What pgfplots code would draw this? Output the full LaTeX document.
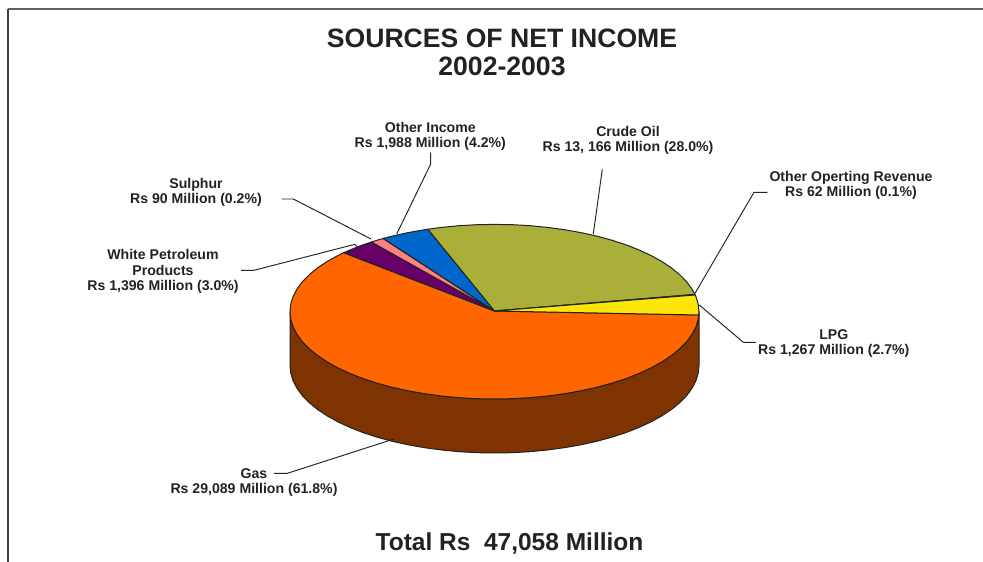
\documentclass[border=0pt]{standalone}
\usepackage{pgfplots}
\pgfplotsset{compat=1.18}
\usepackage{fontspec}
\setmainfont{Liberation Sans}
\definecolor{ink}{HTML}{222222}
\definecolor{gasTop}{HTML}{FF6600}
\definecolor{gasWall}{HTML}{7F3300}
\definecolor{whitePet}{HTML}{660066}
\definecolor{sulphur}{HTML}{FF8080}
\definecolor{otherInc}{HTML}{0066CC}
\definecolor{crude}{HTML}{A9AF39}
\definecolor{otherOp}{HTML}{FFCC00}
\definecolor{lpg}{HTML}{FFE60A}
\begin{document}
\begin{tikzpicture}[lab/.style={align=center, text=ink, font=\fontsize{14.1}{15.6}\selectfont\bfseries}]
\path[use as bounding box] (0,0) rectangle (983pt,562pt);
\begin{axis}[
  at={(0,0)}, anchor=south west,
  scale only axis, width=983pt, height=562pt,
  xmin=0, xmax=983, ymin=0, ymax=562,
  hide axis,
  slice/.style={draw=ink, line width=1pt, line join=round},
  leader/.style={draw=ink, line width=0.95pt, line join=round},
]
% page frame
\addplot[draw=black!62, line width=2pt] coordinates {(8,553) (983,553)};
\addplot[draw=black!75, line width=1.3pt] coordinates {(8,553) (8,0)};

% side wall of the disc
\addplot[slice, fill=gasWall] coordinates {
 (290.0,250.3) (290.8,242.7) (293.1,235.1) (297.0,227.7) (302.3,220.4) (309.2,213.4) (317.4,206.6) (327.0,200.2)
 (337.8,194.2) (349.9,188.6) (363.0,183.4) (377.2,178.8) (392.2,174.7) (408.1,171.2) (424.6,168.3) (441.6,166.0)
 (459.0,164.3) (476.7,163.3) (494.5,163.0) (512.3,163.3) (530.0,164.3) (547.4,166.0) (564.4,168.3) (580.9,171.2)
 (596.8,174.7) (611.8,178.8) (626.0,183.4) (639.1,188.6) (651.2,194.2) (662.0,200.2) (671.6,206.6) (679.8,213.4)
 (686.7,220.4) (692.0,227.7) (695.9,235.1) (698.2,242.7) (699.0,250.3)
 (699.0,196.3) (698.2,188.7) (695.9,181.1) (692.0,173.7) (686.7,166.4) (679.8,159.4) (671.6,152.6) (662.0,146.2)
 (651.2,140.2) (639.1,134.6) (626.0,129.4) (611.8,124.8) (596.8,120.7) (580.9,117.2) (564.4,114.3) (547.4,112.0)
 (530.0,110.3) (512.3,109.3) (494.5,109.0) (476.7,109.3) (459.0,110.3) (441.6,112.0) (424.6,114.3) (408.1,117.2)
 (392.2,120.7) (377.2,124.8) (363.0,129.4) (349.9,134.6) (337.8,140.2) (327.0,146.2) (317.4,152.6) (309.2,159.4)
 (302.3,166.4) (297.0,173.7) (293.1,181.1) (290.8,188.7) (290.0,196.3)
} -- cycle;

% Gas
\addplot[slice, fill=gasTop] coordinates {
 (494.5,251) (343.7,309.3) (337.8,306.4) (327.0,300.4) (317.4,294.0) (309.2,287.2) (302.3,280.2) (297.0,272.9)
 (293.1,265.5) (290.8,257.9) (290.0,250.3) (290.8,242.7) (293.1,235.1) (297.0,227.7) (302.3,220.4) (309.2,213.4)
 (317.4,206.6) (327.0,200.2) (337.8,194.2) (349.9,188.6) (363.0,183.4) (377.2,178.8) (392.2,174.7) (408.1,171.2)
 (424.6,168.3) (441.6,166.0) (459.0,164.3) (476.7,163.3) (494.5,163.0) (512.3,163.3) (530.0,164.3) (547.4,166.0)
 (564.4,168.3) (580.9,171.2) (596.8,174.7) (611.8,178.8) (626.0,183.4) (639.1,188.6) (651.2,194.2) (662.0,200.2)
 (671.6,206.6) (679.8,213.4) (686.7,220.4) (692.0,227.7) (695.9,235.1) (698.2,242.7) (698.9,247.0)
} -- cycle;

% White Petroleum Products
\addplot[slice, fill=whitePet] coordinates {
 (494.5,251) (371.4,320.0) (363.0,317.2) (349.9,312.0) (343.7,309.3)
} -- cycle;

% Sulphur
\addplot[slice, fill=sulphur] coordinates {
 (494.5,251) (383.1,323.5) (377.2,321.8) (371.4,320.0)
} -- cycle;

% Other Income
\addplot[slice, fill=otherInc] coordinates {
 (494.5,251) (427.9,332.8) (424.6,332.3) (408.1,329.4) (392.2,325.9) (383.1,323.5)
} -- cycle;

% Crude Oil
\addplot[slice, fill=crude] coordinates {
 (494.5,251) (695.0,267.6) (692.0,272.9) (686.7,280.2) (679.8,287.2) (671.6,294.0) (662.0,300.4) (651.2,306.4)
 (639.1,312.0) (626.0,317.2) (611.8,321.8) (596.8,325.9) (580.9,329.4) (564.4,332.3) (547.4,334.6) (530.0,336.3)
 (512.3,337.3) (494.5,337.6) (476.7,337.3) (459.0,336.3) (441.6,334.6) (427.9,332.8)
} -- cycle;

% Other Operating Revenue
\addplot[slice, fill=otherOp] coordinates {
 (494.5,251) (695.2,267.0) (695.0,267.6)
} -- cycle;

% LPG
\addplot[slice, fill=lpg] coordinates {
 (494.5,251) (698.9,247.0) (699.0,250.3) (698.2,257.9) (695.9,265.5) (695.2,267.0)
} -- cycle;

% leader lines
\addplot[leader] coordinates {(241,291.7) (254,291.7) (355,317.7) (357,315)};
\addplot[leader] coordinates {(281.7,363) (293.3,363) (371,323)};
\addplot[leader] coordinates {(430.7,409.3) (430.7,398) (396.7,328)};
\addplot[leader] coordinates {(602.3,392.7) (593.3,328)};
\addplot[leader] coordinates {(767.3,369.7) (754,369.7) (695,268.7)};
\addplot[leader] coordinates {(699.3,257) (743.3,219.7) (756,219.7)};
\addplot[leader] coordinates {(274,88.7) (287.3,88.7) (394,123)};

% titles
\node[align=center, font=\fontsize{26.6}{27.8}\selectfont\bfseries, text=ink] at (axis cs:502,510) {SOURCES OF NET INCOME\\2002-2003};
\node[font=\fontsize{24.5}{27}\selectfont\bfseries, text=ink] at (axis cs:509.5,18) {Total Rs\ \ 47,058 Million};

% slice labels
\node[lab] at (axis cs:430.3,425.5) {Other Income\\Rs 1,988 Million (4.2\%)};
\node[lab] at (axis cs:628,421.5) {Crude Oil\\Rs 13, 166 Million (28.0\%)};
\node[lab] at (axis cs:851,376.5) {Other Operting Revenue\\Rs 62 Million (0.1\%)};
\node[lab] at (axis cs:833.8,218.5) {LPG\\Rs 1,267 Million (2.7\%)};
\node[lab] at (axis cs:254,79.5) {Gas\\Rs 29,089 Million (61.8\%)};
\node[lab] at (axis cs:196,369.5) {Sulphur\\Rs 90 Million (0.2\%)};
\node[lab] at (axis cs:163,290.5) {White Petroleum\\Products\\Rs 1,396 Million (3.0\%)};
\end{axis}
\end{tikzpicture}
\end{document}
